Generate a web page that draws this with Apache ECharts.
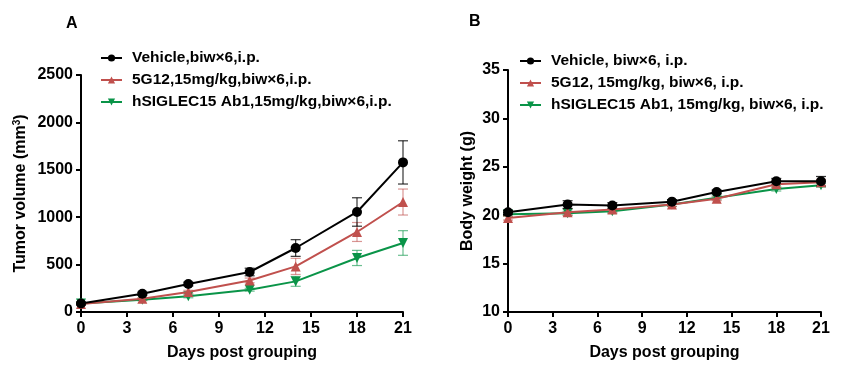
<!DOCTYPE html>
<html>
<head>
<meta charset="utf-8">
<script src="https://cdn.jsdelivr.net/npm/echarts@6/dist/echarts.min.js"></script>
<style>
  html, body { margin: 0; padding: 0; background: #fff; }
  #chart { width: 847px; height: 375px; }
</style>
</head>
<body>
<div id="chart"></div>
<script>
const days = [0, 4, 7, 11, 14, 18, 21];

// panel A: tumor volume (mm3), mean and SEM
const volVehicle = [90, 193, 295, 422, 675, 1055, 1578];
const volVehicleErr = [15, 15, 20, 40, 88, 150, 228];
const vol5G12 = [85, 140, 211, 333, 481, 844, 1160];
const vol5G12Err = [10, 12, 18, 25, 85, 100, 137];
const volAb1 = [90, 130, 165, 235, 323, 570, 728];
const volAb1Err = [10, 10, 15, 15, 52, 80, 130];

// panel B: body weight (g)
const bwVehicle = [20.3, 21.1, 21.0, 21.4, 22.4, 23.5, 23.5];
const bwVehicleErr = [0.2, 0.4, 0.3, 0.2, 0.2, 0.3, 0.5];
const bw5G12 = [19.7, 20.3, 20.6, 21.1, 21.7, 23.2, 23.4];
const bw5G12Err = [0.2, 0.3, 0.3, 0.2, 0.2, 0.3, 0.3];
const bwAb1 = [20.1, 20.2, 20.4, 21.1, 21.8, 22.7, 23.1];
const bwAb1Err = [0.2, 0.2, 0.2, 0.2, 0.2, 0.2, 0.2];

const namesA = ["Vehicle,biw×6,i.p.", "5G12,15mg/kg,biw×6,i.p.", "hSIGLEC15 Ab1,15mg/kg,biw×6,i.p."];
const namesB = ["Vehicle, biw×6, i.p.", "5G12, 15mg/kg, biw×6, i.p.", "hSIGLEC15 Ab1, 15mg/kg, biw×6, i.p."];

const colors = ["#000000", "#c0504d", "#0a9448"];
const symbols = ["circle", "triangle", "path://M0,0 L10,0 L5,10 Z"];
const font = "Arial, 'Liberation Sans', sans-serif";

const pairs = (ys) => days.map((d, i) => [d, ys[i]]);

const lineSeries = (name, ys, k, axis) => ({
  name: name,
  type: "line",
  xAxisIndex: axis,
  yAxisIndex: axis,
  data: pairs(ys),
  symbol: symbols[k],
  symbolSize: 10,
  color: colors[k],
  lineStyle: { width: 2, color: colors[k] },
  itemStyle: { color: colors[k] },
  z: 5 - k
});

const errSeries = (ys, errs, k, axis) => ({
  type: "custom",
  xAxisIndex: axis,
  yAxisIndex: axis,
  data: days.map((d, i) => [d, ys[i] - errs[i], ys[i] + errs[i]]),
  z: 4 - k,
  silent: true,
  renderItem: (params, api) => {
    const lo = api.coord([api.value(0), api.value(1)]);
    const hi = api.coord([api.value(0), api.value(2)]);
    const w = 5;
    const style = { stroke: colors[k], lineWidth: 1.2, opacity: k === 0 ? 0.8 : 0.6 };
    return {
      type: "group",
      children: [
        { type: "line", shape: { x1: lo[0], y1: lo[1], x2: hi[0], y2: hi[1] }, style: style },
        { type: "line", shape: { x1: lo[0] - w, y1: lo[1], x2: lo[0] + w, y2: lo[1] }, style: style },
        { type: "line", shape: { x1: hi[0] - w, y1: hi[1], x2: hi[0] + w, y2: hi[1] }, style: style }
      ]
    };
  }
});

const axisCommon = {
  axisLine: { lineStyle: { color: "#000", width: 2 } },
  axisTick: { show: true, length: 5, lineStyle: { color: "#000", width: 2 } },
  splitLine: { show: false },
  axisLabel: { color: "#000", fontSize: 16, fontWeight: "bold", fontFamily: font, formatter: v => String(v) },
  nameTextStyle: { color: "#000", fontSize: 16, fontWeight: "bold", fontFamily: font }
};

const xAxisFor = (gridIndex) => Object.assign({}, axisCommon, {
  type: "value",
  gridIndex: gridIndex,
  min: 0,
  max: 21,
  interval: 3,
  name: "Days post grouping",
  nameLocation: "middle",
  nameGap: 33,
  axisLabel: Object.assign({}, axisCommon.axisLabel, { margin: 9 })
});

const legendFor = (names, left, top) => ({
  left: left,
  top: top,
  orient: "vertical",
  itemWidth: 21,
  itemHeight: 9,
  itemGap: 6,
  data: names,
  textStyle: { color: "#000", fontSize: 15.5, fontWeight: "bold", fontFamily: font, padding: [0, 0, 0, 5] }
});

const chart = echarts.init(document.getElementById("chart"));
chart.setOption({
  animation: false,
  backgroundColor: "#fff",
  title: [
    { text: "A", left: 61, top: 11, textStyle: { fontSize: 16, fontWeight: "bold", fontFamily: font, color: "#000" } },
    { text: "B", left: 464, top: 9, textStyle: { fontSize: 16, fontWeight: "bold", fontFamily: font, color: "#000" } }
  ],
  legend: [legendFor(namesA, 95, 45), legendFor(namesB, 514, 48)],
  grid: [
    { left: 81, top: 75, width: 322, height: 237 },
    { left: 508, top: 70, width: 313, height: 242 }
  ],
  xAxis: [xAxisFor(0), xAxisFor(1)],
  yAxis: [
    Object.assign({}, axisCommon, {
      type: "value",
      gridIndex: 0,
      min: 0,
      max: 2500,
      interval: 500,
      name: "Tumor volume (mm{sup|3})",
      nameLocation: "middle",
      nameGap: 51,
      nameTextStyle: Object.assign({}, axisCommon.nameTextStyle, {
        rich: { sup: { fontSize: 10, fontWeight: "bold", fontFamily: font, color: "#000", verticalAlign: "top", padding: [0, 0, 8, 0] } }
      }),
      axisLabel: Object.assign({}, axisCommon.axisLabel, { margin: 8 })
    }),
    Object.assign({}, axisCommon, {
      type: "value",
      gridIndex: 1,
      min: 10,
      max: 35,
      interval: 5,
      name: "Body weight (g)",
      nameLocation: "middle",
      nameGap: 32,
      axisLabel: Object.assign({}, axisCommon.axisLabel, { margin: 8 })
    })
  ],
  series: [
    errSeries(volVehicle, volVehicleErr, 0, 0),
    errSeries(vol5G12, vol5G12Err, 1, 0),
    errSeries(volAb1, volAb1Err, 2, 0),
    lineSeries(namesA[0], volVehicle, 0, 0),
    lineSeries(namesA[1], vol5G12, 1, 0),
    lineSeries(namesA[2], volAb1, 2, 0),
    errSeries(bwVehicle, bwVehicleErr, 0, 1),
    errSeries(bw5G12, bw5G12Err, 1, 1),
    errSeries(bwAb1, bwAb1Err, 2, 1),
    lineSeries(namesB[0], bwVehicle, 0, 1),
    lineSeries(namesB[1], bw5G12, 1, 1),
    lineSeries(namesB[2], bwAb1, 2, 1)
  ]
});
</script>
</body>
</html>
